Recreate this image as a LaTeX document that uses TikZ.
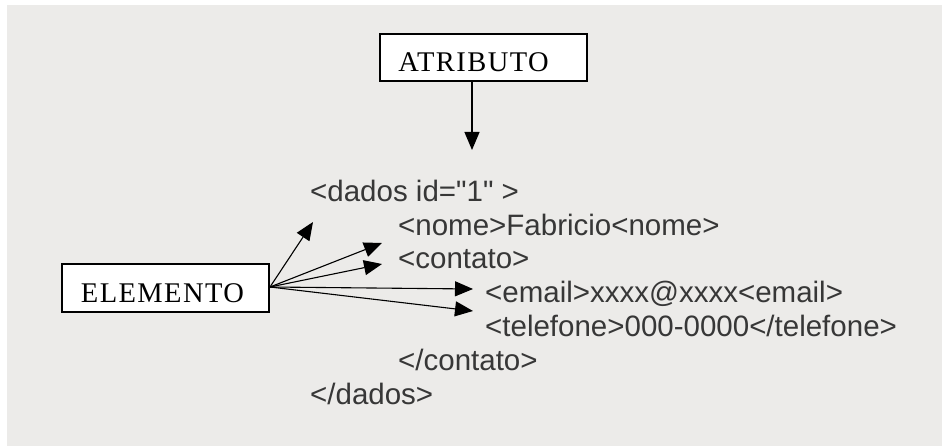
\documentclass[tikz,border=0pt]{standalone}
\usepackage{fontspec}
\setmainfont{Liberation Serif}
\newfontfamily\boxfont[LetterSpace=5]{Liberation Serif}
\newfontfamily\codefont{Liberation Sans}
\usetikzlibrary{arrows.meta}
\definecolor{bggray}{RGB}{236,235,233}
\definecolor{codegray}{RGB}{55,55,55}
\begin{document}
\begin{tikzpicture}[x=1pt,y=-1pt,
  labelbox/.style={draw=black,line width=1.4pt,fill=white,inner sep=0pt,
    minimum width=207pt,font=\boxfont\fontsize{28.5}{30}\selectfont,
    text depth=0pt},
  code/.style={anchor=base west,inner sep=0pt,text=codegray,
    font=\codefont\fontsize{29.5}{31}\selectfont},
  pointer/.style={line width=1.1pt,-{Triangle[length=18pt,width=15pt]}}]
\useasboundingbox (0,0) rectangle (942,446);
\fill[white] (0,0) rectangle (942,446);
\fill[bggray] (7,5) rectangle (942,446);
% boxes
\node[labelbox,minimum height=47pt,text height=29pt] (atr) at (483.5,57.5) {ATRIBUTO\kern20pt\null};
\node[labelbox,minimum height=48pt,text height=28pt] (elem) at (165.5,288) {ELEMENTO\kern6pt\null};
% code lines
\node[code] (l1) at (310,201.5) {<dados id="1" >};
\node[code] (l2) at (398,235.5) {<nome>Fabricio<nome>};
\node[code] (l3) at (398,268.5) {<contato>};
\node[code] (l4) at (485,302.5) {<email>xxxx@xxxx<email>};
\node[code] (l5) at (485,336.5) {<telefone>000-0000</telefone>};
\node[code] (l6) at (398,370.5) {</contato>};
\node[code] (l7) at (310,404.5) {</dados>};
% arrow end points
\coordinate (atip) at (472,150);
\coordinate (t1) at (313,222);
\coordinate (t2) at (382,243);
\coordinate (t3) at (382,264);
\coordinate (t4) at (473,289);
\coordinate (t5) at (473,311);
\coordinate (eo) at (270,287);
% arrows
\draw[pointer] (atr.south -| atip) -- (atip);
\draw[pointer] (eo) -- (t1);
\draw[pointer] (eo) -- (t2);
\draw[pointer] (eo) -- (t3);
\draw[pointer] (eo) -- (t4);
\draw[pointer] (eo) -- (t5);
\end{tikzpicture}
\end{document}
